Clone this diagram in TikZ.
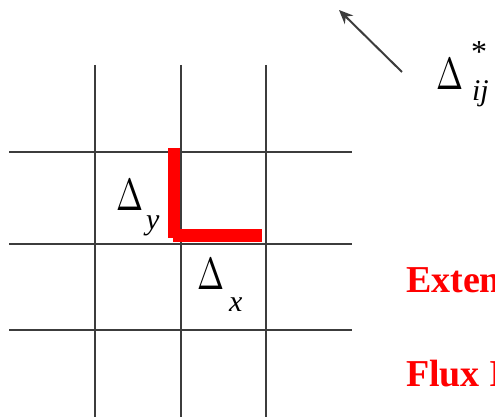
\documentclass[tikz,border=0pt]{standalone}
\usepackage{fontspec}
\setmainfont{Liberation Serif}
\usepackage{graphicx}
\usepackage{xcolor}
\usepackage{tikz}
\usetikzlibrary{arrows.meta}
\definecolor{gridgray}{RGB}{60, 60, 60}
\definecolor{fluxred}{RGB}{255, 0, 0}
\newcommand{\dlt}{\scalebox{3.24}[4.5]{$\Delta$}}

\begin{document}
\begin{tikzpicture}[x=1pt, y=-1pt,
  gl/.style={line width=2pt, color=gridgray},
  face/.style={line width=12pt, color=fluxred},
  dl/.style={inner sep=0pt, outer sep=0pt, anchor=base west},
  sub/.style={inner sep=0pt, outer sep=0pt, anchor=base west,
    font=\fontsize{30pt}{30pt}\selectfont\itshape},
  note/.style={inner sep=0pt, outer sep=0pt, anchor=base west,
    font=\fontsize{38pt}{38pt}\selectfont\bfseries, text=fluxred},
  arr/.style={-{Stealth[length=14pt, width=12pt]}, line width=2pt, color=gridgray}
]
\useasboundingbox (0,0) rectangle (495,419);
\clip (0,0) rectangle (495,419);
\foreach \gx in {95, 181, 266}
  \draw[gl] (\gx,65) -- (\gx,417);
\foreach \gy in {152, 244, 330}
  \draw[gl] (9,\gy) -- (352,\gy);
\draw[face] (174,148) -- (174,238);
\draw[face, line width=13pt] (173,236) -- (262,236);
\node[dl]  at (116,211) (dy)    {\dlt};
\node[sub] at (146,230) (dysub) {y};
\node[dl]  at (197,290) (dx)    {\dlt};
\node[sub] at (229,312) (dxsub) {x};
\node[dl]  at (436,90)  (dij)   {\dlt};
\node[sub, font=\fontsize{32pt}{32pt}\selectfont]
           at (471,63)  (star)  {*};
\node[sub] at (472,101) (ij)    {ij};
\coordinate (tail) at (402,72);
\coordinate (tip)  at (339,10);
\draw[arr] (tail) -- (tip);
\node[note] at (406,293) (ext)  {Exten};
\node[note] at (406,386) (flux) {Flux I};
\end{tikzpicture}
\end{document}
